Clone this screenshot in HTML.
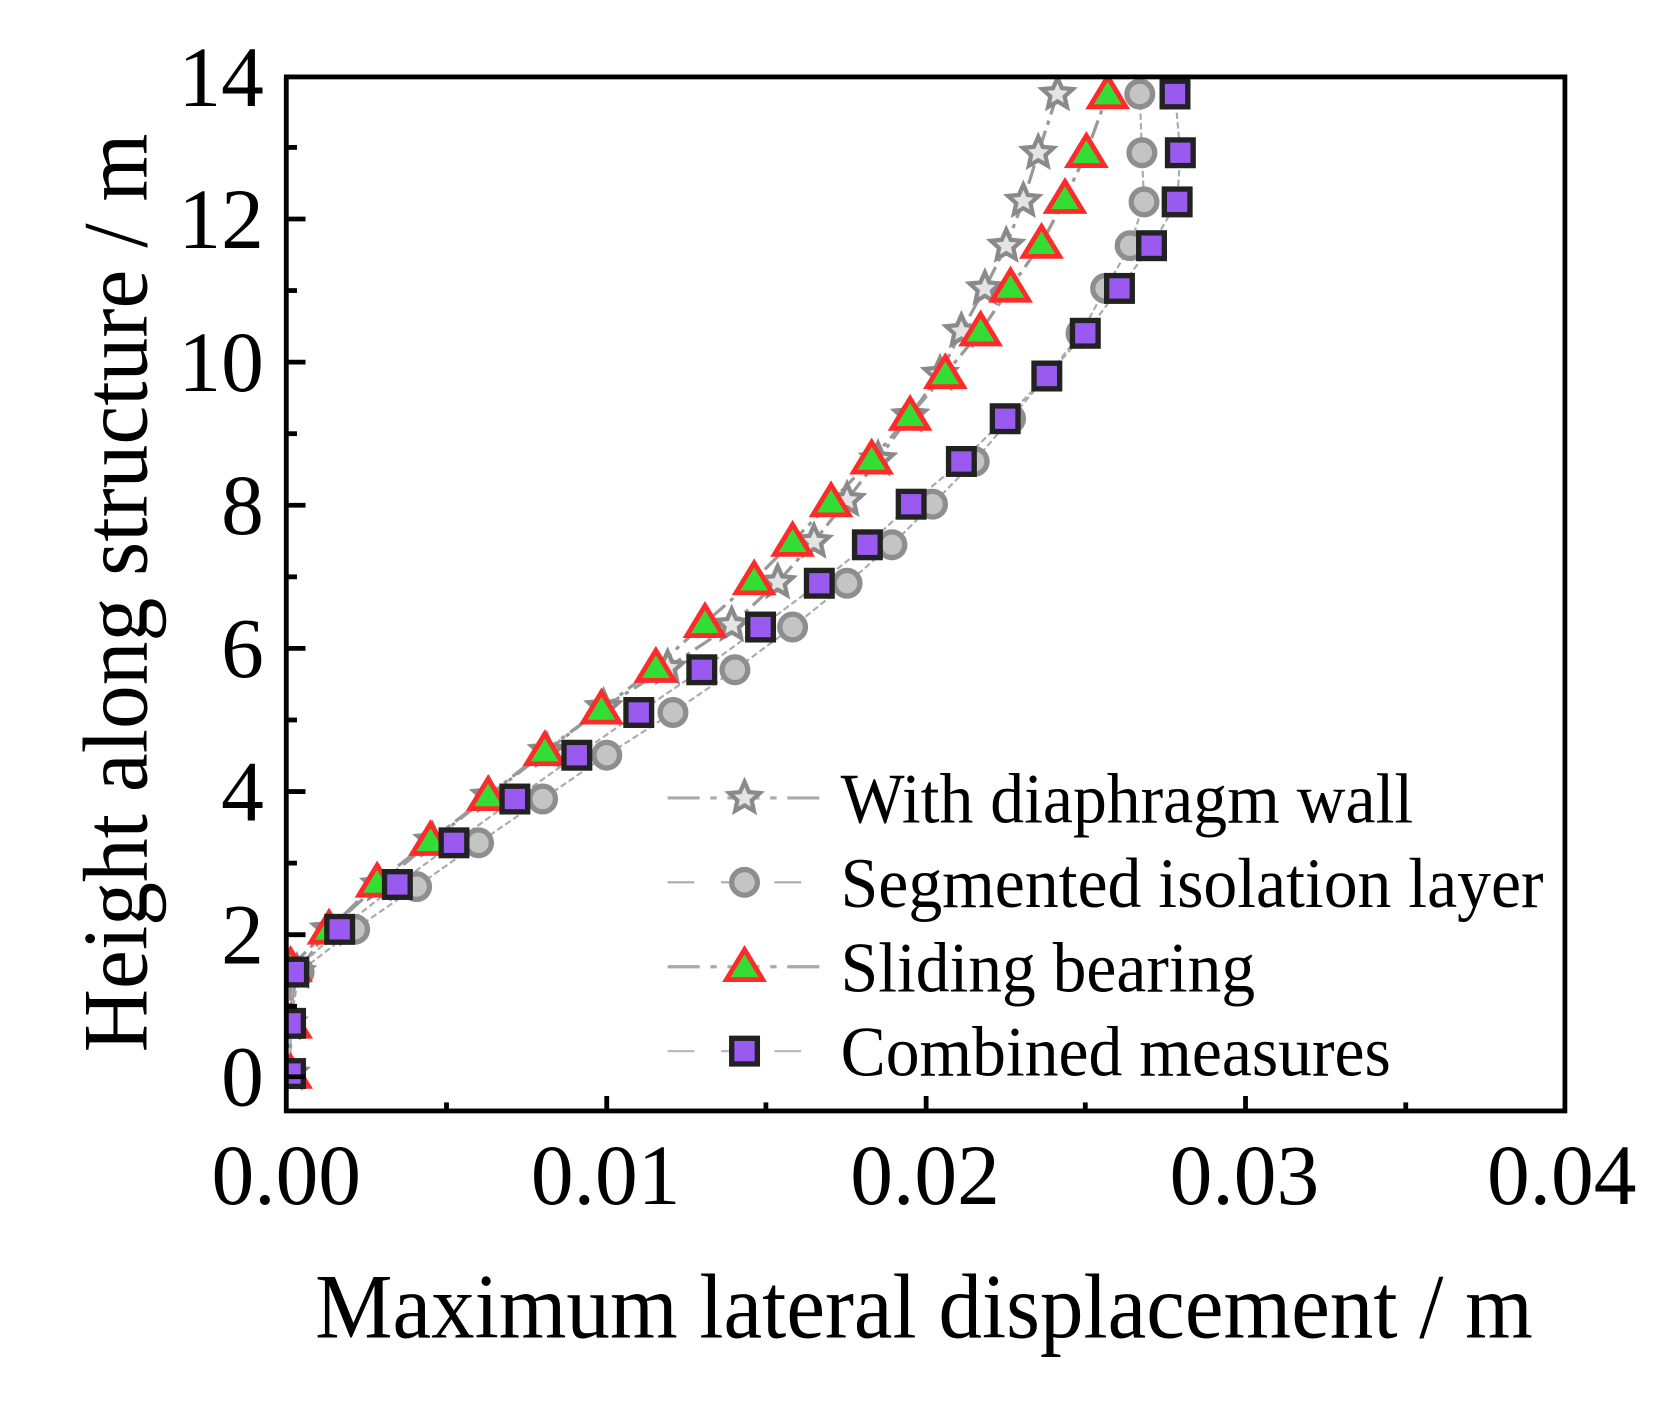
<!DOCTYPE html>
<html><head><meta charset="utf-8"><style>html,body{margin:0;padding:0;background:#fff}svg{display:block}</style></head>
<body>
<svg width="1676" height="1425" viewBox="0 0 1569 1334" preserveAspectRatio="none" xmlns="http://www.w3.org/2000/svg" font-family="'Liberation Serif', serif">
<defs>
<clipPath id="c"><rect x="270" y="74" width="1193" height="964"/></clipPath>
<g id="star"><polygon points="0,-15 4.2,-5.5 14.3,-4.6 6.7,2.3 8.8,12.1 0,7 -8.8,12.1 -6.7,2.3 -14.3,-4.6 -4.2,-5.5" fill="#e4e4e4" stroke="#8a8a8a" stroke-width="4"/></g>
<g id="circ"><circle r="12" fill="#c4c4c4" stroke="#8e8e8e" stroke-width="5"/></g>
<g id="tri"><polygon points="0,-16 17,12 -17,12" fill="#33dd33" stroke="#ff2a2a" stroke-width="4.5"/></g>
<g id="sq"><rect x="-12" y="-12" width="24" height="24" fill="#9a5af0" stroke="#222" stroke-width="5"/></g>
</defs>
<rect width="1569" height="1334" fill="#fff"/>
<g clip-path="url(#c)">
<polyline fill="none" stroke="#999" stroke-width="3" stroke-dasharray="18,6,4,6" points="272,1005 270,958 278,910 308,870 355,828 405,787 458,745 512,703 565,662 625,625 685,585 728,545 762,507 793,468 822,430 852,389 880,350 900,310 922,270 942,230 958,188 972,143 990,88"/>
<polyline fill="none" stroke="#aaa" stroke-width="2" stroke-dasharray="6,3" points="272,1005 272,958 280,910 332,870 390,830 448,789 508,748 568,707 630,667 688,627 742,587 793,546 835,510 873,472 912,432 946,392 980,352 1012,312 1035,270 1058,230 1071,189 1069,143 1067,88"/>
<polyline fill="none" stroke="#999" stroke-width="3" stroke-dasharray="18,6,4,6" points="272,1005 272,958 272,905 308,870 353,826 403,787 457,745 510,703 563,664 614,625 660,583 706,543 742,507 778,470 816,430 852,389 885,350 918,310 946,269 975,228 997,186 1017,143 1037,88"/>
<polyline fill="none" stroke="#aaa" stroke-width="2" stroke-dasharray="6,3" points="272,1005 272,958 275,910 318,870 372,828 425,789 482,748 540,707 598,667 657,627 712,587 767,546 812,510 853,472 900,432 941,392 980,352 1016,312 1048,270 1078,230 1102,189 1105,143 1100,88"/>
<g>
<use href="#star" x="272" y="1005"/><use href="#star" x="270" y="958"/><use href="#star" x="278" y="910"/><use href="#star" x="308" y="870"/><use href="#star" x="355" y="828"/><use href="#star" x="405" y="787"/><use href="#star" x="458" y="745"/><use href="#star" x="512" y="703"/><use href="#star" x="565" y="662"/><use href="#star" x="625" y="625"/><use href="#star" x="685" y="585"/><use href="#star" x="728" y="545"/><use href="#star" x="762" y="507"/><use href="#star" x="793" y="468"/><use href="#star" x="822" y="430"/><use href="#star" x="852" y="389"/><use href="#star" x="880" y="350"/><use href="#star" x="900" y="310"/><use href="#star" x="922" y="270"/><use href="#star" x="942" y="230"/><use href="#star" x="958" y="188"/><use href="#star" x="972" y="143"/><use href="#star" x="990" y="88"/>
</g>
<g>
<use href="#circ" x="272" y="1005"/><use href="#circ" x="272" y="958"/><use href="#circ" x="280" y="910"/><use href="#circ" x="332" y="870"/><use href="#circ" x="390" y="830"/><use href="#circ" x="448" y="789"/><use href="#circ" x="508" y="748"/><use href="#circ" x="568" y="707"/><use href="#circ" x="630" y="667"/><use href="#circ" x="688" y="627"/><use href="#circ" x="742" y="587"/><use href="#circ" x="793" y="546"/><use href="#circ" x="835" y="510"/><use href="#circ" x="873" y="472"/><use href="#circ" x="912" y="432"/><use href="#circ" x="946" y="392"/><use href="#circ" x="980" y="352"/><use href="#circ" x="1012" y="312"/><use href="#circ" x="1035" y="270"/><use href="#circ" x="1058" y="230"/><use href="#circ" x="1071" y="189"/><use href="#circ" x="1069" y="143"/><use href="#circ" x="1067" y="88"/>
</g>
<g>
<use href="#tri" x="272" y="1005"/><use href="#tri" x="272" y="958"/><use href="#tri" x="272" y="905"/><use href="#tri" x="308" y="870"/><use href="#tri" x="353" y="826"/><use href="#tri" x="403" y="787"/><use href="#tri" x="457" y="745"/><use href="#tri" x="510" y="703"/><use href="#tri" x="563" y="664"/><use href="#tri" x="614" y="625"/><use href="#tri" x="660" y="583"/><use href="#tri" x="706" y="543"/><use href="#tri" x="742" y="507"/><use href="#tri" x="778" y="470"/><use href="#tri" x="816" y="430"/><use href="#tri" x="852" y="389"/><use href="#tri" x="885" y="350"/><use href="#tri" x="918" y="310"/><use href="#tri" x="946" y="269"/><use href="#tri" x="975" y="228"/><use href="#tri" x="997" y="186"/><use href="#tri" x="1017" y="143"/><use href="#tri" x="1037" y="88"/>
</g>
<g>
<use href="#sq" x="272" y="1005"/><use href="#sq" x="272" y="958"/><use href="#sq" x="275" y="910"/><use href="#sq" x="318" y="870"/><use href="#sq" x="372" y="828"/><use href="#sq" x="425" y="789"/><use href="#sq" x="482" y="748"/><use href="#sq" x="540" y="707"/><use href="#sq" x="598" y="667"/><use href="#sq" x="657" y="627"/><use href="#sq" x="712" y="587"/><use href="#sq" x="767" y="546"/><use href="#sq" x="812" y="510"/><use href="#sq" x="853" y="472"/><use href="#sq" x="900" y="432"/><use href="#sq" x="941" y="392"/><use href="#sq" x="980" y="352"/><use href="#sq" x="1016" y="312"/><use href="#sq" x="1048" y="270"/><use href="#sq" x="1078" y="230"/><use href="#sq" x="1102" y="189"/><use href="#sq" x="1105" y="143"/><use href="#sq" x="1100" y="88"/>
</g>
</g>
<rect x="268" y="72" width="1197" height="968" fill="none" stroke="#000" stroke-width="4.5"/>
<g stroke="#000" stroke-width="4.5">
<line x1="568" y1="1040" x2="568" y2="1026"/><line x1="867" y1="1040" x2="867" y2="1026"/><line x1="1166" y1="1040" x2="1166" y2="1026"/>
<line x1="418" y1="1040" x2="418" y2="1032"/><line x1="717" y1="1040" x2="717" y2="1032"/><line x1="1016" y1="1040" x2="1016" y2="1032"/><line x1="1316" y1="1040" x2="1316" y2="1032"/>
<line x1="268" y1="875" x2="286" y2="875"/><line x1="268" y1="741" x2="286" y2="741"/><line x1="268" y1="607" x2="286" y2="607"/><line x1="268" y1="473" x2="286" y2="473"/><line x1="268" y1="339" x2="286" y2="339"/><line x1="268" y1="205" x2="286" y2="205"/><line x1="268" y1="1008" x2="286" y2="1008"/>
<line x1="268" y1="942" x2="278" y2="942"/><line x1="268" y1="808" x2="278" y2="808"/><line x1="268" y1="674" x2="278" y2="674"/><line x1="268" y1="540" x2="278" y2="540"/><line x1="268" y1="406" x2="278" y2="406"/><line x1="268" y1="272" x2="278" y2="272"/><line x1="268" y1="138" x2="278" y2="138"/>
</g>
<g font-size="80" text-anchor="end">
<text x="247" y="1035">0</text><text x="247" y="902">2</text><text x="247" y="768">4</text><text x="247" y="634">6</text><text x="247" y="500">8</text><text x="247" y="366">10</text><text x="247" y="232">12</text><text x="247" y="99">14</text>
</g>
<g font-size="80" text-anchor="middle">
<text x="268" y="1127">0.00</text><text x="567" y="1127">0.01</text><text x="866" y="1127">0.02</text><text x="1165" y="1127">0.03</text><text x="1462" y="1127">0.04</text>
</g>
<text x="865" y="1252" font-size="86" text-anchor="middle" textLength="1140" lengthAdjust="spacingAndGlyphs">Maximum lateral displacement / m</text>
<text transform="translate(137,555) rotate(-90)" font-size="86" text-anchor="middle" textLength="860" lengthAdjust="spacingAndGlyphs">Height along structure / m</text>
<g>
<line x1="625" y1="747" x2="770" y2="747" stroke="#aaa" stroke-width="3" stroke-dasharray="30,10,6,10"/>
<use href="#star" x="697" y="747"/>
<line x1="625" y1="826" x2="770" y2="826" stroke="#aaa" stroke-width="2" stroke-dasharray="25,25"/>
<use href="#circ" x="697" y="826"/>
<line x1="625" y1="905" x2="770" y2="905" stroke="#aaa" stroke-width="3" stroke-dasharray="30,10,6,10"/>
<use href="#tri" x="697" y="905"/>
<line x1="625" y1="984" x2="770" y2="984" stroke="#bbb" stroke-width="2" stroke-dasharray="25,25"/>
<use href="#sq" x="697" y="984"/>
</g>
<g font-size="66" lengthAdjust="spacingAndGlyphs">
<text x="787" y="770" textLength="536" lengthAdjust="spacingAndGlyphs">With diaphragm wall</text>
<text x="787" y="849" textLength="658" lengthAdjust="spacingAndGlyphs">Segmented isolation layer</text>
<text x="787" y="928" textLength="388" lengthAdjust="spacingAndGlyphs">Sliding bearing</text>
<text x="787" y="1007" textLength="515" lengthAdjust="spacingAndGlyphs">Combined measures</text>
</g>
</svg>
</body></html>
